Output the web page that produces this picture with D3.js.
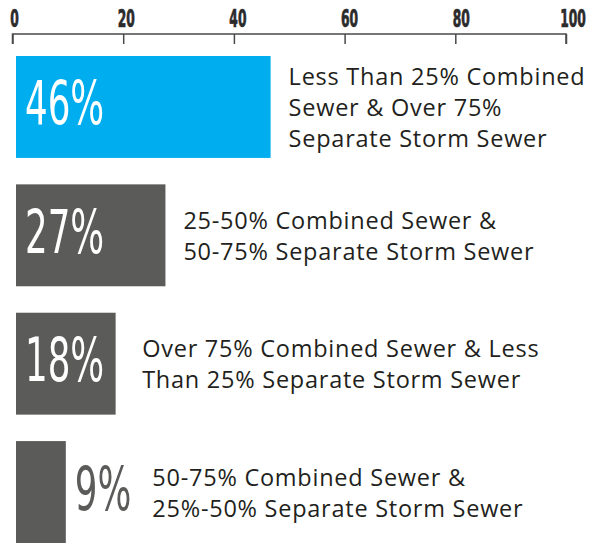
<!DOCTYPE html>
<html>
<head>
<meta charset="utf-8">
<script src="https://cdn.jsdelivr.net/npm/d3@7"></script>
<style>
  body { margin: 0; background: #fff; }
  svg { display: block; }
</style>
</head>
<body>
<div id="chart"></div>
<script>
const categories = [
  ["Less Than 25% Combined", "Sewer & Over 75%", "Separate Storm Sewer"],
  ["25-50% Combined Sewer &", "50-75% Separate Storm Sewer"],
  ["Over 75% Combined Sewer & Less", "Than 25% Separate Storm Sewer"],
  ["50-75% Combined Sewer &", "25%-50% Separate Storm Sewer"]
];
const values = [46, 27, 18, 9];
const tickValues = [0, 20, 40, 60, 80, 100];

const width = 600, height = 543;
const blue = "#00aeef", gray = "#5b5c5a", dark = "#231f20";
const condensed = "'DejaVu Sans Condensed', 'Liberation Sans Narrow', sans-serif";
const pctScale = 0.66;

const svg = d3.select("#chart").append("svg")
  .attr("width", width)
  .attr("height", height);

const x = d3.scaleLinear().domain([0, 100]).range([12.5, 566]);
const y = d3.scaleBand()
  .domain(d3.range(values.length))
  .range([56, 543])
  .paddingInner(0.206)
  .paddingOuter(0);

// axis sits on top, ticks hang down
const axis = svg.append("g")
  .attr("transform", "translate(0,34)")
  .call(d3.axisBottom(x).tickValues(tickValues).tickSize(10).tickFormat(""));
axis.select(".domain")
  .attr("stroke", "#4a4a4a")
  .attr("stroke-width", 1.5)
  .attr("d", `M${x(0)},10V0H${x(100)}V10`);
axis.selectAll(".tick line").attr("stroke", "#4a4a4a").attr("stroke-width", 1.5);

svg.append("g").selectAll("text")
  .data(tickValues)
  .enter()
  .append("text")
  .attr("transform", (d) => `translate(${x(d) + 2 + d * 0.05},27) scale(0.57,1)`)
  .attr("text-anchor", "middle")
  .attr("font-family", condensed)
  .attr("font-weight", "bold")
  .attr("font-size", 24)
  .attr("fill", "#2b2b2b")
  .attr("stroke", "#2b2b2b")
  .attr("stroke-width", 0.7)
  .text((d) => d);

const barX = x(0) + 3.5;

const rows = svg.append("g").selectAll("g")
  .data(values)
  .enter()
  .append("g");

rows.append("rect")
  .attr("x", barX)
  .attr("y", (d, i) => y(i))
  .attr("width", (d) => x(d) - x(0))
  .attr("height", y.bandwidth())
  .attr("fill", (d, i) => (i === 0 ? blue : gray));

rows.each(function (d, i) {
  const g = d3.select(this);
  const barEnd = barX + x(d) - x(0);
  const cy = y(i) + y.bandwidth() / 2;
  const inside = barEnd - barX > 80;
  const px = inside ? barX + 9 : barEnd + 9;

  const pct = g.append("text")
    .attr("transform", `translate(${px},${cy + 17.5}) scale(${pctScale},1)`)
    .attr("font-family", condensed)
    .attr("font-size", 60)
    .attr("fill", inside ? "#fff" : gray)
    .text(d + "%");
  const pctEnd = px + pct.node().getComputedTextLength() * pctScale;

  const lx = inside ? Math.max(barEnd + 18, pctEnd + 38) : pctEnd + 21;
  const lines = categories[i];
  const label = g.append("text")
    .attr("font-family", "'Open Sans', 'Noto Sans', sans-serif")
    .attr("font-size", 23.5)
    .attr("letter-spacing", 0.75)
    .attr("fill", dark);
  lines.forEach((line, j) => {
    label.append("tspan")
      .attr("x", lx)
      .attr("y", cy + (j - (lines.length - 1) / 2) * 31 + 9)
      .text(line);
  });
});
</script>
</body>
</html>
